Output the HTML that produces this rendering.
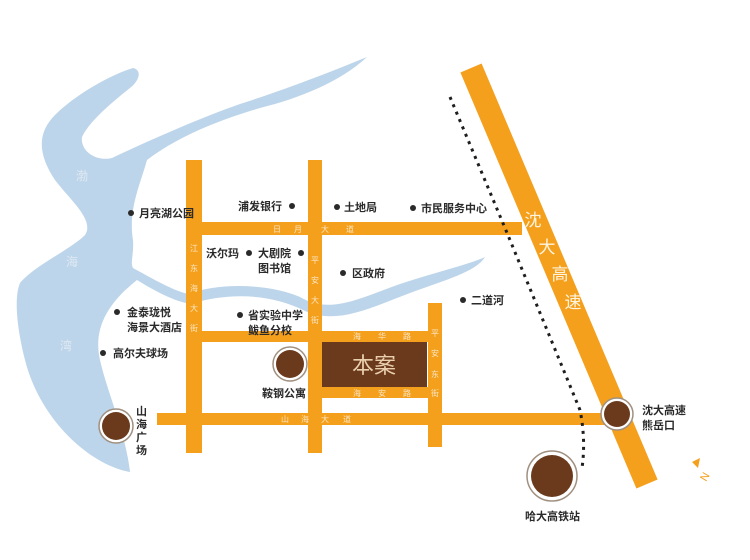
<!DOCTYPE html>
<html><head><meta charset="utf-8"><style>
html,body{margin:0;padding:0;background:#fff;}
svg{display:block;}
.l{font-family:"Liberation Sans","Noto Sans CJK SC",sans-serif;font-weight:bold;font-size:11px;fill:#2a2a2a;}
.r{font-family:"Liberation Sans","Noto Sans CJK SC",sans-serif;font-size:8px;fill:#fbe6c4;text-anchor:middle;}
.w{font-family:"Liberation Sans","Noto Sans CJK SC",sans-serif;font-size:12px;fill:#dfe9f3;text-anchor:middle;}
</style></head><body>
<svg width="750" height="560" viewBox="0 0 750 560" xmlns="http://www.w3.org/2000/svg">
<rect width="750" height="560" fill="#fff"/>
<!-- water -->
<path fill="#bdd5ea" d="M130,472 C90,465 40,420 25,360 C15,320 15,295 20,283 C35,265 70,250 85,235 C95,220 70,200 55,180 C35,150 40,130 55,115 C75,95 110,75 133,68 C142,70 140,80 130,88 C115,100 90,120 82,137 C80,150 95,162 112,158 C150,140 200,118 240,104 C290,88 330,72 367,57 C340,82 300,98 260,108 C220,120 180,135 147,160 C140,185 128,210 133,240 C134,255 130,262 133,268 C155,280 172,290 188,294 C220,282 270,284 300,297 C330,315 360,298 400,284 C440,271 470,264 485,257 C476,272 445,280 410,293 C370,308 335,326 303,310 C270,294 230,292 190,304 C170,300 150,288 137,280 C112,300 92,325 100,360 C108,395 125,430 130,472 Z"/>
<text class="w" x="82" y="180">渤</text>
<text class="w" x="72" y="266">海</text>
<text class="w" x="66" y="350">湾</text>
<!-- roads -->
<g fill="#f4a01c">
<rect x="186" y="160" width="16" height="293"/>
<rect x="308" y="160" width="14" height="293"/>
<rect x="202" y="222" width="320" height="13"/>
<rect x="202" y="331" width="240" height="11"/>
<rect x="320" y="387" width="110" height="11"/>
<rect x="428" y="303" width="14" height="144"/>
<rect x="157" y="413" width="452" height="12"/>
</g>
<line x1="471" y1="68" x2="647" y2="484" stroke="#f4a01c" stroke-width="23"/>
<path d="M450,97 L505,228 L580,410 Q586,440 582,468" fill="none" stroke="#1e1e1e" stroke-width="3" stroke-dasharray="3,5"/>
<!-- box -->
<rect x="322" y="342" width="105" height="45" fill="#6b3a1c"/>
<text x="374" y="373" text-anchor="middle" style="font-family:'Liberation Sans','Noto Sans CJK SC',sans-serif;font-size:22px;fill:#e9cfae">本案</text>
<!-- road labels -->
<g class="r">
<text x="277" y="232">日</text><text x="298" y="232">月</text><text x="325" y="232">大</text><text x="350" y="232">道</text>
<text x="194" y="251">江</text><text x="194" y="271">东</text><text x="194" y="291">海</text><text x="194" y="311">大</text><text x="194" y="331">街</text>
<text x="315" y="263">平</text><text x="315" y="283">安</text><text x="315" y="303">大</text><text x="315" y="323">街</text>
<text x="357" y="339">海</text><text x="382" y="339">华</text><text x="407" y="339">路</text>
<text x="357" y="396">海</text><text x="382" y="396">安</text><text x="407" y="396">路</text>
<text x="435" y="336">平</text><text x="435" y="356">安</text><text x="435" y="377">东</text><text x="435" y="396">街</text>
<text x="285" y="422">山</text><text x="305" y="422">海</text><text x="325" y="422">大</text><text x="347" y="422">道</text>
</g>
<g style="font-family:'Liberation Sans','Noto Sans CJK SC',sans-serif;font-size:17px;fill:#fff4e0" text-anchor="middle">
<text x="533" y="226">沈</text><text x="547" y="253">大</text><text x="560" y="280">高</text><text x="573" y="308">速</text>
</g>
<!-- circles -->
<g>
<circle cx="290" cy="364" r="17" fill="#fff" stroke="#a09080" stroke-width="1.5"/><circle cx="290" cy="364" r="14" fill="#6b3a1c"/>
<circle cx="116" cy="426" r="17" fill="#fff" stroke="#a09080" stroke-width="1.5"/><circle cx="116" cy="426" r="14" fill="#6b3a1c"/>
<circle cx="617" cy="414" r="16" fill="#fff" stroke="#a09080" stroke-width="1.5"/><circle cx="617" cy="414" r="13" fill="#6b3a1c"/>
<circle cx="552" cy="476" r="25" fill="#fff" stroke="#a09080" stroke-width="1.5"/><circle cx="552" cy="476" r="21" fill="#6b3a1c"/>
</g>
<!-- dots -->
<g fill="#2a2a2a">
<circle cx="131" cy="213" r="3"/><circle cx="292" cy="206" r="3"/><circle cx="337" cy="207" r="3"/><circle cx="413" cy="208" r="3"/>
<circle cx="249" cy="253" r="3"/><circle cx="301" cy="253" r="3"/><circle cx="343" cy="273" r="3"/><circle cx="463" cy="300" r="3"/>
<circle cx="117" cy="312" r="3"/><circle cx="240" cy="315" r="3"/><circle cx="103" cy="353" r="3"/>
</g>
<g class="l">
<text x="139" y="217">月亮湖公园</text>
<text x="238" y="210">浦发银行</text>
<text x="344" y="211">土地局</text>
<text x="421" y="212">市民服务中心</text>
<text x="206" y="257">沃尔玛</text>
<text x="258" y="257">大剧院</text>
<text x="258" y="272">图书馆</text>
<text x="352" y="277">区政府</text>
<text x="471" y="304">二道河</text>
<text x="127" y="316">金泰珑悦</text>
<text x="127" y="331">海景大酒店</text>
<text x="248" y="319">省实验中学</text>
<text x="248" y="334">鲅鱼分校</text>
<text x="113" y="357">高尔夫球场</text>
<text x="262" y="397">鞍钢公寓</text>
<text x="136" y="415">山</text><text x="136" y="428">海</text><text x="136" y="441">广</text><text x="136" y="454">场</text>
<text x="642" y="414">沈大高速</text>
<text x="642" y="429">熊岳口</text>
<text x="525" y="520">哈大高铁站</text>
</g>
<polygon points="692,462 700,458 698,468" fill="#f4a01c"/>
<text x="706" y="482" transform="rotate(-60 706 482)" style="font-family:'Liberation Sans',sans-serif;font-size:11px;fill:#f4a01c">N</text>
</svg>
</body></html>
